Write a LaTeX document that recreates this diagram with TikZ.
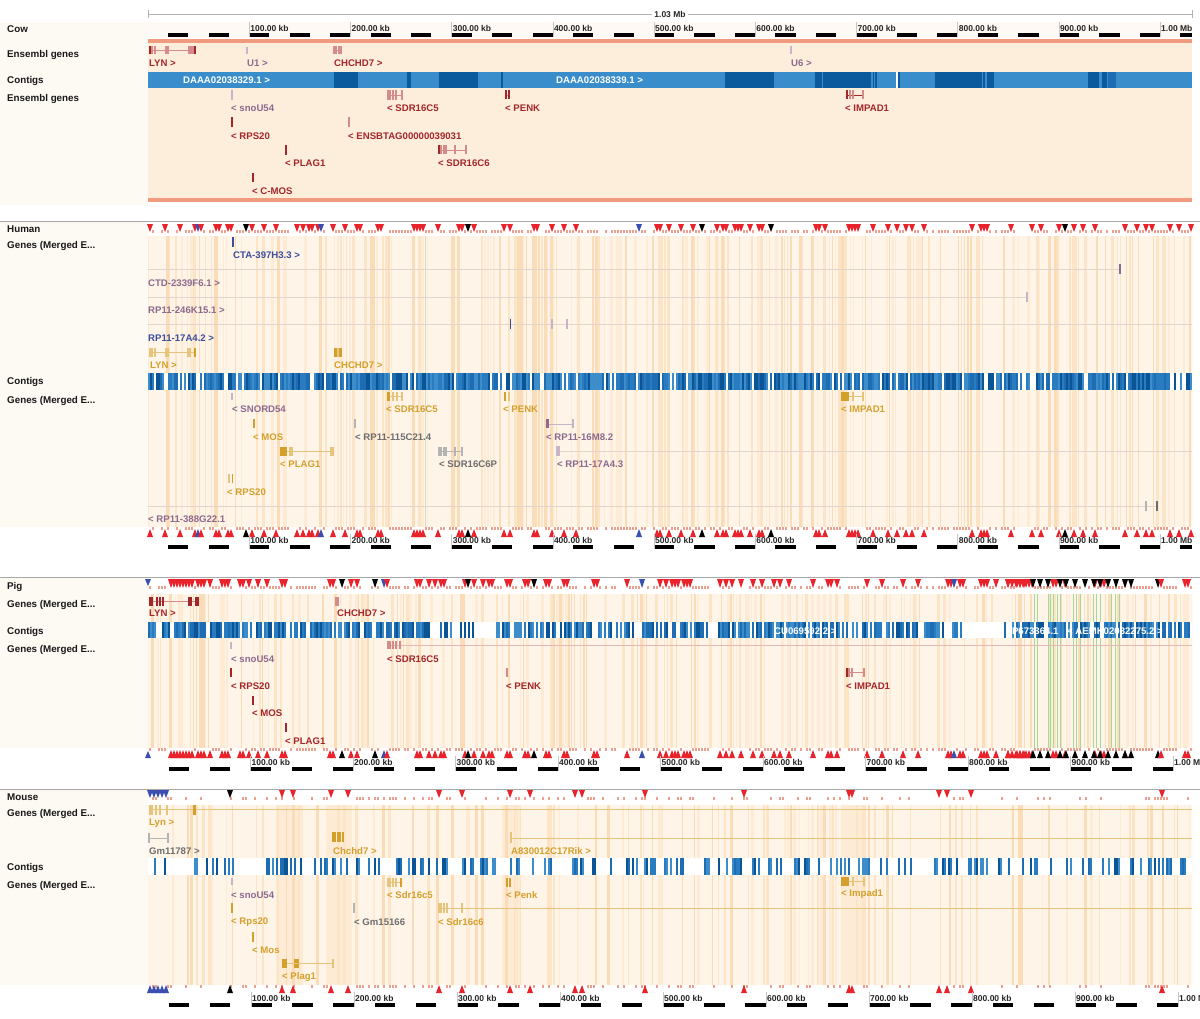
\documentclass[tikz,border=0pt]{standalone}
\usepackage{fontspec}
\setmainfont{Liberation Sans}
\definecolor{cred}{HTML}{A3262A}
\definecolor{credl}{HTML}{D58A8B}
\definecolor{cgold}{HTML}{D4A02C}
\definecolor{cgoldl}{HTML}{E6C47C}
\definecolor{cpur}{HTML}{8C6A8E}
\definecolor{cpurl}{HTML}{C8B4C8}
\definecolor{cblu}{HTML}{3B4E9E}
\definecolor{cgray}{HTML}{6E6E6E}
\definecolor{cgrayl}{HTML}{B4B4B4}
\definecolor{peach}{HTML}{FDEEDC}
\definecolor{cream}{HTML}{FEF4E8}
\definecolor{st1}{HTML}{FCE4C6}
\definecolor{st2}{HTML}{FBDCB8}
\definecolor{st3}{HTML}{FDEBD6}
\definecolor{salmon}{HTML}{F09A7E}
\definecolor{lcol}{HTML}{FDF9F3}
\definecolor{cb1}{HTML}{3C8DCA}
\definecolor{cb2}{HTML}{1E6DB2}
\definecolor{cb3}{HTML}{0B5596}
\definecolor{cb4}{HTML}{2A7CC0}
\definecolor{ctg}{HTML}{3A8DCB}
\definecolor{ctgd}{HTML}{0C5A9E}
\definecolor{vred}{HTML}{E8232B}
\definecolor{vblue}{HTML}{3A4FB0}
\definecolor{vtick}{HTML}{EBA090}
\definecolor{sepg}{HTML}{A8A8A8}
\definecolor{grn}{HTML}{A6D89C}
\definecolor{vline}{HTML}{CFDCC8}
\definecolor{glin}{HTML}{E2D6CC}
\tikzset{
 lbl/.style={font=\fontsize{9.8}{11}\selectfont\bfseries, anchor=west, inner sep=0pt, text=black!90},
 gl/.style={font=\fontsize{9.6}{11}\selectfont\bfseries, anchor=west, inner sep=0pt},
 tk/.style={font=\fontsize{8.5}{10}\selectfont\bfseries, anchor=west, inner sep=0pt, text=black!85},
 tkline/.style={draw=black!22, line width=0.4pt},
 intron/.style={line width=0.5pt},
 sepline/.style={draw=sepg, line width=0.8pt},
}
\newcommand\ex[4]{\fill[#4] (#1-0.55,#2) rectangle (#1+0.55,#3);}
\newcommand\blk[5]{\fill[#5] (#1,#3) rectangle (#2,#4);}
\newcommand\stripes[4]{%
 \begin{scope}
 \clip (148,#1) rectangle (1192,#2);
 \pgfmathsetseed{#4}%
 \foreach \ii in {0,...,348}{%
  \pgfmathrandominteger{\rr}{0}{99}%
  \ifnum\rr<#3\relax
   \pgfmathrandominteger{\ww}{1}{3}%
   \pgfmathrandominteger{\cc}{1}{3}%
   \fill[fill=st\cc] (148+3*\ii,#1) rectangle (148+3*\ii+\ww,#2);%
  \fi}%
 \end{scope}}
\newcommand\barcode[4]{%
 \fill[white] (148,#1) rectangle (1192,#2);
 \pgfmathsetseed{#4}%
 \foreach \ii in {0,...,521}{%
  \pgfmathrandominteger{\rr}{0}{99}%
  \ifnum\rr<#3\relax
   \pgfmathrandominteger{\cc}{1}{4}%
   \fill[fill=cb\cc] (148+2*\ii,#1) rectangle (149.8+2*\ii,#2);%
  \fi}}
\newcommand\variants[6]{%
 \pgfmathsetseed{#5}%
 \foreach \ii in {0,...,347}{%
  \pgfmathrandominteger{\rr}{0}{99}%
  \pgfmathsetmacro\xx{150+3*\ii}%
  \ifnum\rr<#3\relax
   \pgfmathrandominteger{\cc}{0}{24}%
   \ifnum\cc=0\relax\def\tcol{black}\else\ifnum\cc=1\relax\def\tcol{vblue}\else\def\tcol{vred}\fi\fi
   \fill[fill=\tcol] (\xx-3,#1) -- (\xx+3,#1) -- (\xx,#2) -- cycle;%
  \else\ifnum\rr<#4\relax
   \fill[vtick] (\xx-1,#6) rectangle (\xx+1,#6+3);%
  \fi\fi}}
\newcommand\vtri[4]{\fill[#4] (#1-3,#2) -- (#1+3,#2) -- (#1,#3) -- cycle;}
\newcommand\scalebar[3]{%
 \foreach \kk in {0,...,25}{%
  \pgfmathsetmacro\xa{148+#3*(20+40*\kk)}%
  \pgfmathsetmacro\xb{min(1192,148+#3*(40+40*\kk))}%
  \ifdim\xa pt<1192pt\relax \fill[black] (\xa,#2-2) rectangle (\xb,#2+2);\fi}%
 \foreach \kk/\lab in {1/100.00 kb,2/200.00 kb,3/300.00 kb,4/400.00 kb,5/500.00 kb,6/600.00 kb,7/700.00 kb,8/800.00 kb,9/900.00 kb,10/1.00 Mb}{%
  \pgfmathsetmacro\xa{148+#3*100*\kk}%
  \draw[tkline] (\xa,#1-6) -- (\xa,#2+2);%
  \node[tk] (sc#1-\kk) at (\xa+1,#1) {\lab};}}
\begin{document}
\begin{tikzpicture}[x=1pt,y=-1pt]
\useasboundingbox (0,0) rectangle (1200,1018);
\fill[white] (0,0) rectangle (1200,1018);
\clip (0,0) rectangle (1200,1018);

%%%%%%%%%%%%%%%% COW %%%%%%%%%%%%%%%%
\fill[lcol] (0,22) rectangle (148,205);
\fill[cream!50!white] (148,22) rectangle (1192,38);
\fill[peach] (148,42) rectangle (1192,199);
\fill[salmon] (148,39) rectangle (1192,43);
\fill[salmon] (148,198) rectangle (1192,202);
\draw[black!30, line width=0.5pt] (148,14) -- (1192,14);
\draw[black!30, line width=0.5pt] (148,10) -- (148,18);
\draw[black!30, line width=0.5pt] (1192,10) -- (1192,18);
\node[fill=white, font=\fontsize{8.5}{10}\selectfont\bfseries, inner sep=2pt, text=black!85] (len) at (670,14) {1.03 Mb};
% contigs
\fill[ctg] (148,72) rectangle (1192,88);
\foreach \a/\b in {334/358,407/411,439/478,501/503,725/774,815/822,823/871,873/874,875/877,898/900,935/982,983/985,987/994,1088/1099,1102/1107}{\fill[ctgd] (\a,72) rectangle (\b,88);}
\fill[cb2] (1108,72) rectangle (1116,88);
\fill[white] (896,72) rectangle (897.5,88);
\node[gl,text=white] (cowc1) at (183,80) {DAAA02038329.1 >};
\node[gl,text=white] (cowc2) at (556,80) {DAAA02038339.1 >};
\scalebar{28}{34.5}{1.012}
% genes row 1
\draw[credl,intron] (150,50) -- (195,50);
\foreach \x in {150,152,155,166,168,189,191,193,195}{\ex{\x}{46}{54}{credl}}
\ex{150}{46}{54}{cred}\ex{195}{46}{54}{cred}
\node[gl,text=cred] (cowlyn) at (149,63) {LYN >};
\ex{247}{47}{54}{cpurl}
\node[gl,text=cpur] (cowu1) at (247,63) {U1 >};
\draw[credl,intron] (334,50) -- (341,50);
\foreach \x in {334,336,339,341}{\ex{\x}{46}{54}{credl}}
\node[gl,text=cred] (cowchchd7) at (334,63) {CHCHD7 >};
\ex{791}{46}{54}{cpurl}
\node[gl,text=cpur] (cowu6) at (791,63) {U6 >};
% genes row 2
\ex{232}{90}{100}{cpurl}
\node[gl,text=cpur] (cowsno) at (231,108) {< snoU54};
\draw[credl,intron] (388,95) -- (402,95);
\foreach \x in {388,390,393,396,402}{\ex{\x}{90}{100}{credl}}
\node[gl,text=cred] (cowsdr5) at (387,108) {< SDR16C5};
\draw[credl,intron] (506,95) -- (509,95);
\foreach \x in {506,509}{\ex{\x}{90}{99}{cred}}
\node[gl,text=cred] (cowpenk) at (505,108) {< PENK};
\blk{846}{848}{90}{99}{cred}
\draw[cred,intron] (848,95) -- (863,95);
\foreach \x in {850,853,863}{\ex{\x}{90}{99}{credl}}
\node[gl,text=cred] (cowimpad) at (845,108) {< IMPAD1};
\blk{231.3}{233}{117}{127}{cred}
\node[gl,text=cred] (cowrps) at (231,136) {< RPS20};
\ex{349}{117}{127}{credl}
\node[gl,text=cred] (cowens) at (348,136) {< ENSBTAG00000039031};
\blk{285.3}{287}{145}{155}{cred}
\node[gl,text=cred] (cowplag) at (285,163) {< PLAG1};
\draw[credl,intron] (439,150) -- (466,150);
\foreach \x in {439,441,444,446,455,466}{\ex{\x}{145}{154}{credl}}
\ex{439}{145}{154}{cred}
\node[gl,text=cred] (cowsdr6) at (438,163) {< SDR16C6};
\blk{252.3}{254}{173}{182}{cred}
\node[gl,text=cred] (cowmos) at (252,191) {< C-MOS};
% labels
\node[lbl] (lcow) at (7,29) {Cow};
\node[lbl] (lcowg1) at (7,55) {Ensembl genes};
\node[lbl] (lcowc) at (7,81) {Contigs};
\node[lbl] (lcowg2) at (7,99) {Ensembl genes};

%%%%%%%%%%%%%%%% HUMAN %%%%%%%%%%%%%%%%
\draw[sepline] (0,221) -- (1200,221);
\fill[lcol] (0,222) rectangle (148,527);
\fill[cream] (148,236) rectangle (1192,527);
\stripes{236}{527}{52}{11}
\draw[vline, line width=0.8pt] (425,236) -- (425,527);
\draw[glin,intron] (148,269) -- (1120,269);
\blk{1119}{1121}{264}{274}{cpur}
\draw[glin,intron] (148,297) -- (1027,297);
\ex{1027}{292}{302}{cpurl}
\draw[glin,intron] (148,324) -- (1192,324);
\blk{509.5}{511}{319}{329}{cblu}
\ex{552}{319}{329}{cpurl}
\ex{567}{319}{329}{cpurl}
\blk{232}{234}{237}{247}{cblu}
\node[gl,text=cblu] (hcta) at (233,255) {CTA-397H3.3 >};
\node[gl,text=cpur] (hctd) at (148,283) {CTD-2339F6.1 >};
\node[gl,text=cpur] (hrp246) at (148,310) {RP11-246K15.1 >};
\node[gl,text=cblu] (hrp17) at (148,338) {RP11-17A4.2 >};
\draw[cgoldl,intron] (150,352) -- (195,352);
\foreach \x in {150,152,155,166,168,188,190}{\ex{\x}{348}{357}{cgoldl}}
\blk{193.5}{196}{348}{357}{cgold}
\node[gl,text=cgold] (hlyn) at (150,365) {LYN >};
\blk{334}{342}{348}{357}{cgold}
\ex{338}{348}{357}{cgoldl}
\node[gl,text=cgold] (hchchd7) at (334,365) {CHCHD7 >};
\barcode{373}{390}{84}{21}
% genes row 2
\ex{232}{393}{400}{cpurl}
\node[gl,text=cpur] (hsnord) at (232,409) {< SNORD54};
\blk{387}{390}{392}{401}{cgold}
\draw[cgoldl,intron] (390,396) -- (402,396);
\foreach \x in {393,397,402}{\ex{\x}{392}{401}{cgoldl}}
\node[gl,text=cgold] (hsdr5) at (386,409) {< SDR16C5};
\blk{504}{506}{392}{401}{cgold}
\ex{509}{392}{401}{cgoldl}
\node[gl,text=cgold] (hpenk) at (503,409) {< PENK};
\blk{841}{849}{392}{401}{cgold}
\draw[cgoldl,intron] (849,396) -- (863,396);
\foreach \x in {853,863}{\ex{\x}{392}{401}{cgoldl}}
\node[gl,text=cgold] (himpad) at (841,409) {< IMPAD1};
\ex{254}{419}{428}{cgold}
\node[gl,text=cgold] (hmos) at (253,437) {< MOS};
\ex{355}{419}{428}{cgrayl}
\node[gl,text=cgray] (hrp115) at (355,437) {< RP11-115C21.4};
\blk{546}{549}{419}{428}{cpur}
\draw[cpurl,intron] (549,424) -- (573,424);
\ex{573}{419}{428}{cpurl}
\node[gl,text=cpur] (hrp16) at (546,437) {< RP11-16M8.2};
\blk{280}{287}{447}{456}{cgold}
\foreach \x in {290,292,331,333}{\ex{\x}{447}{456}{cgoldl}}
\draw[cgoldl,intron] (287,451) -- (333,451);
\node[gl,text=cgold] (hplag) at (280,464) {< PLAG1};
\draw[cgrayl,intron] (439,451) -- (462,451);
\foreach \x in {439,441,444,446,455,462}{\ex{\x}{447}{456}{cgrayl}}
\node[gl,text=cgray] (hsdr6) at (439,464) {< SDR16C6P};
\draw[glin,intron] (557,451) -- (1192,451);
\foreach \x in {557,559}{\ex{\x}{446}{456}{cpurl}}
\node[gl,text=cpur] (hrp17b) at (557,464) {< RP11-17A4.3};
\ex{229}{474}{483}{cgoldl}
\blk{231.5}{233}{474}{483}{cgold}
\node[gl,text=cgold] (hrps) at (227,492) {< RPS20};
\draw[glin,intron] (148,506) -- (1157,506);
\ex{1146}{501}{511}{cgrayl}
\ex{1157}{501}{511}{cgray}
\node[gl,text=cpur] (hrp388) at (148,519) {< RP11-388G22.1};
% variant rows
\fill[white] (148,222) rectangle (1192,236);
\variants{224}{232}{27}{85}{5}{230}
\fill[white] (148,527) rectangle (1192,553);
\variants{537}{529}{27}{85}{5}{527}
\scalebar{540}{547}{1.012}
\node[lbl] (lhum) at (7,229) {Human};
\node[lbl] (lhumg1) at (7,246) {Genes (Merged E...};
\node[lbl] (lhumc) at (7,382) {Contigs};
\node[lbl] (lhumg2) at (7,401) {Genes (Merged E...};

%%%%%%%%%%%%%%%% PIG %%%%%%%%%%%%%%%%
\draw[sepline] (0,577) -- (1200,577);
\fill[lcol] (0,578) rectangle (148,748);
\fill[cream] (148,594) rectangle (1192,748);
\stripes{594}{748}{46}{31}
\foreach \x in {1034,1037,1048,1050,1053,1057,1060,1073,1076,1080,1093,1096,1100,1111,1115,1119}{\draw[grn, line width=0.9pt] (\x,594) -- (\x,750);}
\barcode{622}{638}{70}{41}
\fill[white] (476,622) rectangle (496,638);
\fill[white] (962,622) rectangle (1004,638);
\fill[white] (1006,622) rectangle (1010,638);
\node[gl,text=white] (pc1) at (774,631) {CU069592.2 >};
\node[gl,text=white] (pc2) at (1006,631) {FP673364.1};
\node[gl,text=white] (pc3) at (1067,631) {< AEMK02032275.2 >};
% genes
\draw[credl,intron] (150,601) -- (198,601);
\foreach \x in {150,152,157,160,163,189,191}{\ex{\x}{597}{606}{cred}}
\blk{195}{199}{597}{606}{cred}
\node[gl,text=cred] (plyn) at (149,613) {LYN >};
\foreach \x in {336,338}{\ex{\x}{597}{606}{credl}}
\node[gl,text=cred] (pchchd7) at (337,613) {CHCHD7 >};
\ex{231}{642}{649}{cpurl}
\node[gl,text=cpur] (psno) at (231,659) {< snoU54};
\draw[credl!60,intron] (388,645) -- (1192,645);
\foreach \x in {388,390,393,396,400}{\ex{\x}{641}{649}{credl}}
\node[gl,text=cred] (psdr5) at (387,659) {< SDR16C5};
\ex{507}{668}{677}{credl}
\node[gl,text=cred] (ppenk) at (506,686) {< PENK};
\draw[credl,intron] (847,672) -- (864,672);
\foreach \x in {847,849,852,864}{\ex{\x}{668}{677}{credl}}
\ex{847}{668}{677}{cred}
\node[gl,text=cred] (pimpad) at (846,686) {< IMPAD1};
\blk{230.3}{232}{668}{677}{cred}
\node[gl,text=cred] (prps) at (231,686) {< RPS20};
\blk{251.5}{254}{696}{705}{cred}
\node[gl,text=cred] (pmos) at (252,713) {< MOS};
\blk{285.3}{287}{723}{732}{cred}
\node[gl,text=cred] (pplag) at (285,741) {< PLAG1};
% variants
\fill[white] (148,578) rectangle (1192,594);
\variants{579}{588}{30}{80}{7}{586}
\fill[white] (148,748) rectangle (1192,775);
\variants{758}{750}{30}{80}{7}{748}
\foreach \x in {1033,1040,1048,1060,1066,1075,1085,1094,1100,1108,1116,1125,1131}{\vtri{\x}{579}{588}{black}\vtri{\x}{758}{750}{black}}
\foreach \x in {1008,1012,1016,1020,1024}{\vtri{\x}{579}{588}{vred}\vtri{\x}{758}{750}{vred}}
\vtri{148}{579}{586}{vblue}\vtri{148}{758}{751}{vblue}
\scalebar{762}{769}{1.025}
\node[lbl] (lpig) at (7,587) {Pig};
\node[lbl] (lpigg1) at (7,605) {Genes (Merged E...};
\node[lbl] (lpigc) at (7,632) {Contigs};
\node[lbl] (lpigg2) at (7,650) {Genes (Merged E...};

%%%%%%%%%%%%%%%% MOUSE %%%%%%%%%%%%%%%%
\draw[sepline] (0,789) -- (1200,789);
\fill[lcol] (0,790) rectangle (148,985);
\fill[cream] (148,805) rectangle (1192,985);
\foreach \a/\b in {276/303,326/352,502/521,841/864}{\fill[st3] (\a,805) rectangle (\b,985);}
\stripes{805}{985}{32}{51}
\barcode{858}{875}{32}{61}
% genes row 1
\draw[cgoldl,intron] (150,809) -- (1192,809);
\foreach \x in {150,152,156,160,167}{\ex{\x}{805}{815}{cgoldl}}
\blk{193}{196}{805}{815}{cgold}
\node[gl,text=cgold] (mlyn) at (149,823) {Lyn >};
\draw[cgrayl,intron] (149,838) -- (168,838);
\foreach \x in {149,168}{\ex{\x}{833}{843}{cgrayl}}
\node[gl,text=cgray] (mgm1) at (149,851) {Gm11787 >};
\foreach \x in {333,335,338,340,343}{\ex{\x}{832}{842}{cgold}}
\node[gl,text=cgold] (mchchd7) at (333,851) {Chchd7 >};
\draw[cgoldl,intron] (511,838) -- (1192,838);
\ex{511}{832}{843}{cgoldl}
\node[gl,text=cgold] (ma83) at (511,851) {A830012C17Rik >};
% genes row 2
\ex{232}{878}{885}{cpurl}
\node[gl,text=cpur] (msno) at (231,895) {< snoU54};
\draw[cgoldl,intron] (388,882) -- (401,882);
\foreach \x in {388,390,393,396,401}{\ex{\x}{878}{887}{cgoldl}}
\ex{401}{878}{887}{cgold}
\node[gl,text=cgold] (msdr5) at (387,895) {< Sdr16c5};
\foreach \x in {507,510}{\ex{\x}{878}{887}{cgold}}
\node[gl,text=cgold] (mpenk) at (506,895) {< Penk};
\blk{841}{849}{877}{886}{cgold}
\draw[cgoldl,intron] (849,881) -- (864,881);
\foreach \x in {853,864}{\ex{\x}{877}{886}{cgoldl}}
\node[gl,text=cgold] (mimpad) at (841,894) {< Impad1};
\blk{231.3}{233}{903}{913}{cgold}
\node[gl,text=cgold] (mrps) at (231,922) {< Rps20};
\ex{354}{903}{913}{cgrayl}
\node[gl,text=cgray] (mgm2) at (354,922) {< Gm15166};
\draw[cgoldl,intron] (439,908) -- (1192,908);
\foreach \x in {439,441,444,447,462}{\ex{\x}{903}{913}{cgoldl}}
\node[gl,text=cgold] (msdr6) at (438,922) {< Sdr16c6};
\ex{253}{932}{942}{cgold}
\node[gl,text=cgold] (mmos) at (252,950) {< Mos};
\blk{282}{287}{959}{968}{cgold}
\blk{294}{299}{959}{968}{cgold}
\draw[cgoldl,intron] (287,963) -- (333,963);
\ex{333}{959}{968}{cgoldl}
\node[gl,text=cgold] (mplag) at (282,977) {< Plag1};
% variants
\fill[white] (148,790) rectangle (1192,805);
\variants{790}{798}{0}{30}{9}{797}
\fill[white] (148,985) rectangle (1192,1018);
\variants{993}{985}{0}{30}{9}{985}
\foreach \x in {150,154,158,162,166}{\vtri{\x}{790}{798}{vblue}\vtri{\x}{993}{985}{vblue}}
\vtri{230}{790}{798}{black}\vtri{230}{993}{985}{black}
\foreach \x in {282,293,331,348,439,462,510,530,575,582,645,744,849,852,939,947,971,1162}{\vtri{\x}{790}{798}{vred}\vtri{\x}{993}{985}{vred}}
\scalebar{998}{1005}{1.03}
\node[lbl] (lmou) at (7,797) {Mouse};
\node[lbl] (lmoug1) at (7,814) {Genes (Merged E...};
\node[lbl] (lmouc) at (7,868) {Contigs};
\node[lbl] (lmoug2) at (7,886) {Genes (Merged E...};
\end{tikzpicture}
\end{document}
